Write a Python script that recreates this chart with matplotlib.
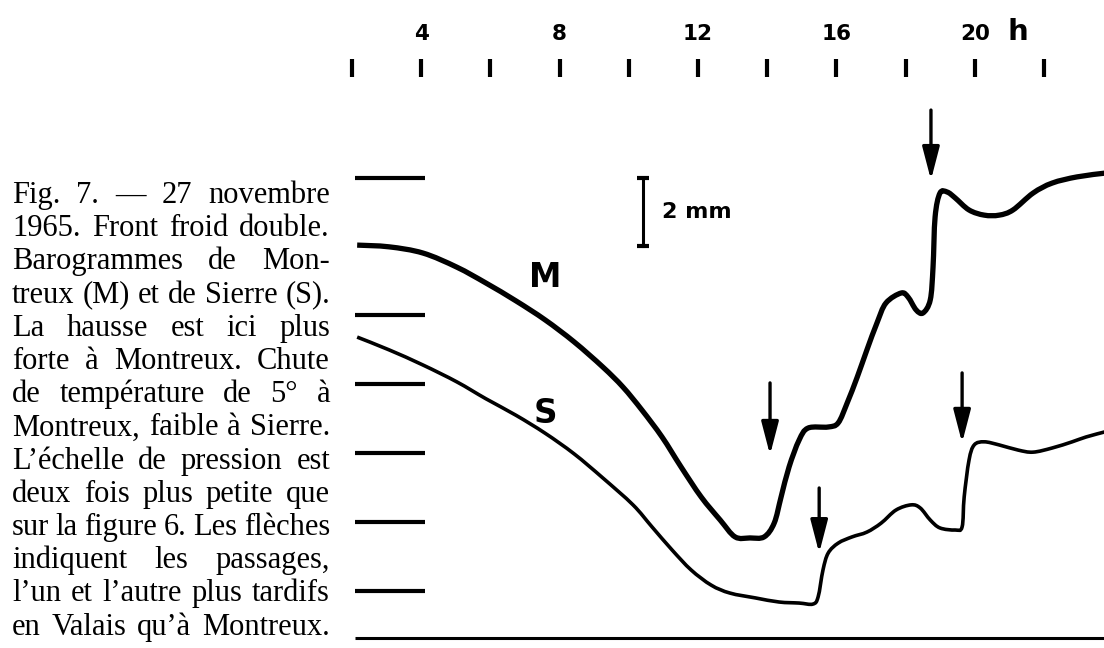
import numpy as np
import matplotlib
matplotlib.use("Agg")
import matplotlib.pyplot as plt
from matplotlib.path import Path
from matplotlib.patches import PathPatch
from matplotlib.transforms import IdentityTransform

# Barogrammes (heure, pression relative en mm)
m_heure = [2.15, 3.07, 4.05, 5.03, 5.87, 6.74, 7.58, 8.42, 9.25, 9.83, 10.38, 10.96,
           11.51, 12.09, 12.64, 13.07, 13.50, 13.91, 14.20, 14.40, 14.63, 14.92, 15.18,
           15.76, 16.05, 16.31, 16.60, 16.88, 17.17, 17.43, 17.87, 18.07, 18.30, 18.50,
           18.71, 18.79, 18.85, 18.99, 19.20, 19.43, 19.83, 20.27, 20.70, 21.10, 21.68,
           22.23, 22.95, 23.76]
m_press = [10.04, 9.99, 9.81, 9.40, 8.94, 8.42, 7.87, 7.23, 6.50, 5.92, 5.25, 4.47,
           3.60, 2.73, 2.06, 1.57, 1.54, 1.57, 1.97, 2.73, 3.60, 4.38, 4.73,
           4.76, 4.88, 5.46, 6.21, 7.00, 7.78, 8.36, 8.65, 8.53, 8.16, 8.07,
           8.45, 9.40, 10.86, 11.55, 11.58, 11.41, 11.06, 10.91, 10.91, 11.06, 11.55,
           11.84, 12.02, 12.13]

s_heure = [2.15, 3.07, 4.05, 5.03, 5.87, 6.74, 7.58, 8.42, 9.25, 10.12, 10.67, 11.25,
           11.80, 12.38, 12.92, 13.65, 14.34, 14.92, 15.32, 15.47, 15.61, 15.76, 16.05,
           16.45, 16.88, 17.29, 17.72, 18.16, 18.42, 18.71, 18.99, 19.43, 19.63, 19.69,
           19.83, 19.98, 20.27, 20.70, 21.25, 21.68, 22.23, 22.81, 23.21, 23.76]
s_press = [7.37, 7.00, 6.56, 6.07, 5.58, 5.10, 4.58, 3.98, 3.28, 2.50, 1.86, 1.19,
           0.61, 0.17, -0.06, -0.20, -0.32, -0.35, -0.38, -0.17, 0.61, 1.10, 1.39,
           1.57, 1.71, 1.97, 2.35, 2.50, 2.41, 2.06, 1.83, 1.77, 1.86, 2.73,
           3.80, 4.24, 4.33, 4.24, 4.09, 4.03, 4.15, 4.33, 4.47, 4.62]

# passages des fronts (heure, debut, fin de la fleche)
fleches = [(18.73, 13.96, 11.93), (14.08, 6.04, 3.95), (15.50, 2.99, 1.10), (19.63, 6.33, 4.30)]

heures_ticks = [2, 4, 6, 8, 10, 12, 14, 16, 18, 20, 22]
heures_labels = [4, 8, 12, 16, 20]
graduations = [0, 2, 4, 6, 8, 12]

legende = [
    "Fig. 7. — 27 novembre",
    "1965. Front froid double.",
    "Barogrammes de Mon-",
    "treux (M) et de Sierre (S).",
    "La hausse est ici plus",
    "forte à Montreux. Chute",
    "de température de 5° à",
    "Montreux, faible à Sierre.",
    "L’échelle de pression est",
    "deux fois plus petite que",
    "sur la figure 6. Les flèches",
    "indiquent les passages,",
    "l’un et l’autre plus tardifs",
    "en Valais qu’à Montreux.",
]


def courbe_lisse(x, y):
    # trace lisse (Bezier) passant par les points lus
    pts = np.column_stack([x, y])
    verts = [pts[0]]
    codes = [Path.MOVETO]
    n = len(pts)
    for i in range(n - 1):
        p0, p1 = pts[max(i - 1, 0)], pts[i]
        p2, p3 = pts[i + 1], pts[min(i + 2, n - 1)]
        verts += [p1 + (p2 - p0) / 6, p2 - (p3 - p1) / 6, p2]
        codes += [Path.CURVE4] * 3
    return Path(verts, codes)


fig = plt.figure(figsize=(11.04, 6.48), dpi=100)
ax = fig.add_axes([0, 0, 1, 1])
ax.set_xlim(-8.17, 23.73)
ax.set_ylim(-1.655, 17.155)
ax.axis("off")

# courbes
ax.add_patch(PathPatch(courbe_lisse(m_heure, m_press), fill=False, color="black",
                       lw=3.8, joinstyle="round", capstyle="butt"))
ax.add_patch(PathPatch(courbe_lisse(s_heure, s_press), fill=False, color="black",
                       lw=2.6, joinstyle="round", capstyle="butt"))

# echelle de gauche et ligne de base
ax.hlines(graduations, 2.09, 4.11, color="black", lw=3)
ax.hlines(-1.36, 2.09, 23.73, color="black", lw=2.2)

# echelle des heures en haut
ax.vlines(heures_ticks, 14.92, 15.45, color="black", lw=3)
for h in heures_labels:
    ax.text(h, 15.99, str(h), ha="center", va="baseline", fontsize=15.5,
            fontweight="bold", family="DejaVu Sans")
ax.text(21.25, 15.99, "h", ha="center", va="baseline", fontsize=21,
        fontweight="bold", family="DejaVu Sans")

# barre 2 mm
ax.plot([10.41, 10.41], [10.0, 12.0], color="black", lw=2.2)
ax.plot([10.41, 10.41], [10.0, 12.0], color="black", lw=0, marker="_", ms=8, mew=3)
ax.text(10.97, 11.0, "2 mm", ha="left", va="center", fontsize=16,
        fontweight="bold", family="DejaVu Sans")

# etiquettes des courbes
ax.text(7.58, 9.09, "M", ha="center", va="center", fontsize=23.5, fontweight="bold", family="DejaVu Sans")
ax.text(7.58, 5.14, "S", ha="center", va="center", fontsize=23.5, fontweight="bold", family="DejaVu Sans")

# fleches
for h, y0, y1 in fleches:
    ax.annotate("", xy=(h, y1), xytext=(h, y0),
                arrowprops=dict(arrowstyle="-|>,head_length=1.0,head_width=0.26",
                                color="black", lw=2.4, shrinkA=0, shrinkB=0,
                                mutation_scale=20))

# legende justifiee a gauche
renderer = fig.canvas.get_renderer()
x0, x1 = 12, 330
for i, ligne in enumerate(legende):
    base = 648 - (203 + i * 33.2)
    mots = ligne.split(" ")
    textes = [fig.text(0, base, m, fontsize=22, family="Liberation Serif",
                       va="baseline", ha="left", transform=IdentityTransform()) for m in mots]
    largeurs = [t.get_window_extent(renderer).width for t in textes]
    espace = (x1 - x0 - sum(largeurs)) / max(len(mots) - 1, 1)
    x = x0
    for t, w in zip(textes, largeurs):
        t.set_x(x)
        x += w + espace

fig.savefig("out.png", dpi=100)
